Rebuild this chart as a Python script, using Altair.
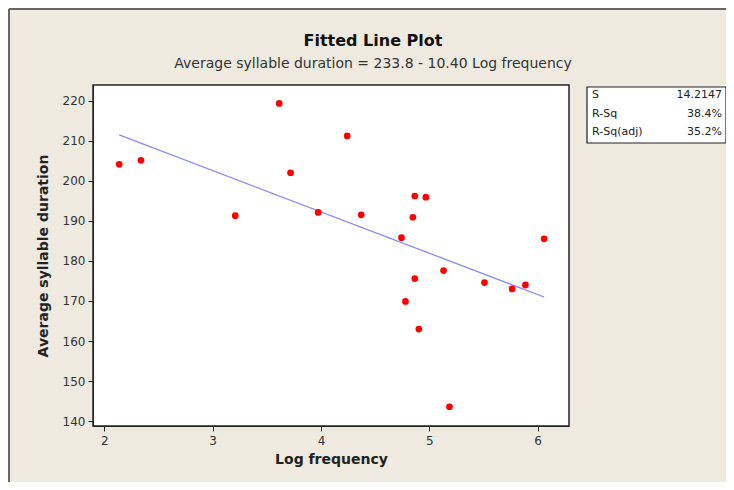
import altair as alt
import pandas as pd

log_freq = [2.138, 2.339, 3.209, 3.614, 3.719, 3.974, 4.242, 4.371, 4.866, 4.968,
            4.848, 4.743, 6.059, 4.866, 4.780, 4.903, 5.131, 5.509, 5.764, 5.887, 5.186]
syl_dur = [204.1, 205.1, 191.3, 219.3, 202.0, 192.1, 211.2, 191.5, 196.2, 195.9,
           190.9, 185.8, 185.5, 175.6, 169.9, 163.0, 177.6, 174.6, 173.0, 174.0, 143.6]
stat_names = ["S", "R-Sq", "R-Sq(adj)"]
stat_values = ["14.2147", "38.4%", "35.2%"]
x_ticks = [2, 3, 4, 5, 6]
y_ticks = [140, 150, 160, 170, 180, 190, 200, 210, 220]
title_text = "Fitted Line Plot"
subtitle_text = "Average syllable duration =  233.8 - 10.40 Log frequency"

df = pd.DataFrame({"x": log_freq, "y": syl_dur})
stats = pd.DataFrame({"names": ["\n".join(stat_names)], "values": ["\n".join(stat_values)]})
titles = pd.DataFrame({"title": [title_text], "subtitle": [subtitle_text]})

FONT = "DejaVu Sans"
xs = alt.Scale(domain=[1.896, 6.289], nice=False, zero=False)
ys = alt.Scale(domain=[138.8, 223.9], nice=False, zero=False)

xenc = alt.X("x:Q", scale=xs, title="Log frequency",
             axis=alt.Axis(values=x_ticks, format="d", grid=False, tickSize=5, labelFontSize=12,
                           labelColor="#333333", titleFontSize=14, titleFontWeight="bold",
                           titleColor="#222222", domainColor="#222222", tickColor="#222222",
                           labelPadding=4, titlePadding=6, labelFont=FONT, titleFont=FONT))
yenc = alt.Y("y:Q", scale=ys, title="Average syllable duration",
             axis=alt.Axis(values=y_ticks, grid=False, tickSize=5, labelFontSize=12,
                           labelColor="#333333", titleFontSize=14, titleFontWeight="bold",
                           titleColor="#222222", domainColor="#222222", tickColor="#222222",
                           labelPadding=3, titlePadding=12, labelFont=FONT, titleFont=FONT))

points = alt.Chart(df).mark_point(filled=True, color="#FF0000", size=45, opacity=1).encode(
    x=xenc, y=yenc)

line = alt.Chart(df).transform_regression("x", "y").mark_line(
    color="#8888FF", strokeWidth=1.3).encode(x=alt.X("x:Q", scale=xs), y=alt.Y("y:Q", scale=ys))

box = alt.Chart(stats).mark_rect(fill="white", stroke="#222222", strokeWidth=1.2).encode(
    x=alt.value(494), x2=alt.value(633), y=alt.value(2), y2=alt.value(58))

names = alt.Chart(stats).mark_text(align="left", baseline="top", fontSize=11, lineHeight=18.5,
                                   lineBreak="\n", font=FONT, color="#222222").encode(
    x=alt.value(499), y=alt.value(4), text="names:N")
vals = alt.Chart(stats).mark_text(align="right", baseline="top", fontSize=11, lineHeight=18.5,
                                  lineBreak="\n", font=FONT, color="#222222").encode(
    x=alt.value(629), y=alt.value(4), text="values:N")

title = alt.Chart(titles).mark_text(align="center", baseline="alphabetic", fontSize=16,
                                    fontWeight="bold", font=FONT, color="#111111").encode(
    x=alt.value(280), y=alt.value(-39), text="title:N")
subtitle = alt.Chart(titles).mark_text(align="center", baseline="alphabetic", fontSize=14,
                                       font=FONT, color="#333333").encode(
    x=alt.value(280), y=alt.value(-17), text="subtitle:N")

left_border = alt.Chart(titles).mark_rule(color="#666666", strokeWidth=2).encode(
    x=alt.value(-84), y=alt.value(-76), y2=alt.value(410))
top_border = alt.Chart(titles).mark_rule(color="#666666", strokeWidth=2).encode(
    x=alt.value(-84), x2=alt.value(640), y=alt.value(-76))

chart = alt.layer(left_border, top_border, line, points, box, names, vals, title, subtitle).properties(
    width=476, height=341,
    autosize=alt.AutoSizeParams(type="none"),
    padding={"left": 85, "top": 77, "right": 157, "bottom": 56},
    background="#EEEAE0",
).configure_view(stroke="#222222", strokeWidth=1.5, fill="white").configure_axis(grid=False)

chart.save("out.html", embed_options={"renderer": "svg", "actions": False})
